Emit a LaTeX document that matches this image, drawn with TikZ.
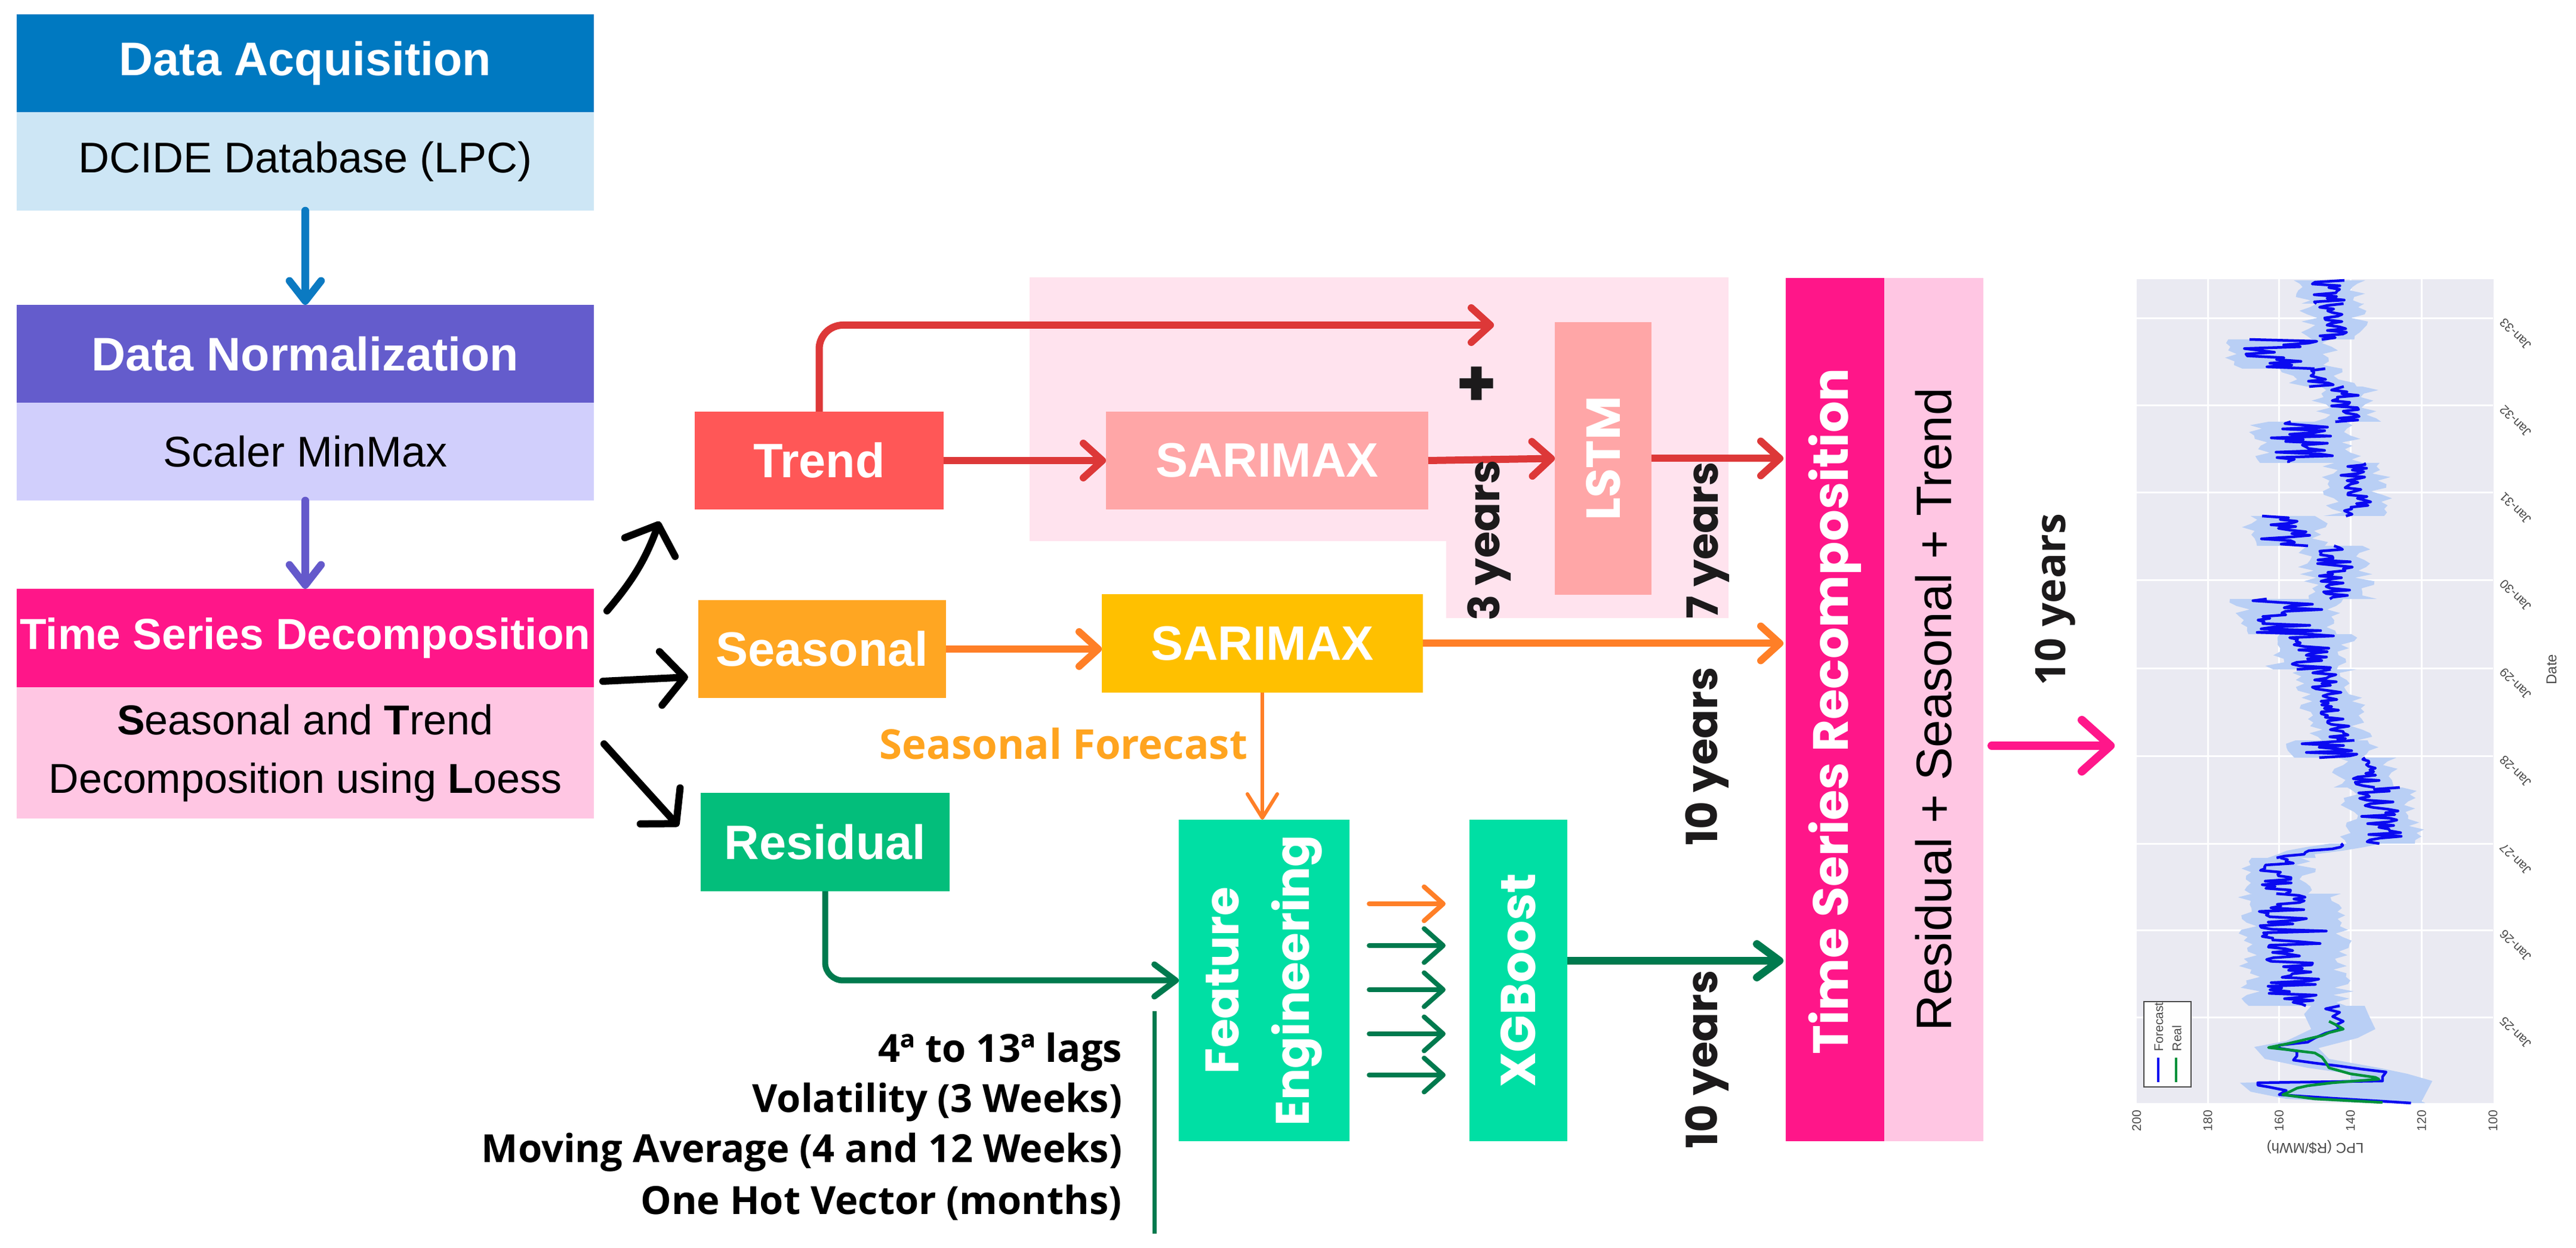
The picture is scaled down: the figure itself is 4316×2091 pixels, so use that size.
\documentclass[tikz,border=0pt]{standalone}
\usepackage{fontspec}
\setmainfont{Liberation Sans}
\newfontfamily\pop{Poppins}
\newfontfamily\osans{Open Sans}
\usetikzlibrary{arrows.meta}
\definecolor{acqH}{HTML}{0079C1}
\definecolor{acqB}{HTML}{CDE6F5}
\definecolor{normH}{HTML}{645CCC}
\definecolor{normB}{HTML}{D1CFFC}
\definecolor{tsdH}{HTML}{FF1689}
\definecolor{tsdB}{HTML}{FFC6E3}
\definecolor{blueArr}{HTML}{0B7AC2}
\definecolor{purpArr}{HTML}{6459CB}
\definecolor{trendC}{HTML}{FF5757}
\definecolor{salmon}{HTML}{FFA6A7}
\definecolor{pinkBg}{HTML}{FFE3EE}
\definecolor{redArr}{HTML}{DD3838}
\definecolor{seasC}{HTML}{FFA622}
\definecolor{yellowC}{HTML}{FFC000}
\definecolor{orangeArr}{HTML}{FF7F27}
\definecolor{fcTxt}{HTML}{FFA41F}
\definecolor{residC}{HTML}{03BE7B}
\definecolor{tealC}{HTML}{00DFA4}
\definecolor{dkGreen}{HTML}{007A4E}
\definecolor{pinkArr}{HTML}{FF178A}
\definecolor{plotbg}{HTML}{EAEAF2}
\definecolor{bandC}{HTML}{B9CFF5}
\definecolor{lineBlue}{HTML}{0A0AF0}
\definecolor{realGreen}{HTML}{00913A}
\definecolor{txtBlack}{HTML}{1C1A1B}
\definecolor{tickGray}{HTML}{4A4A4A}
\begin{document}
\begin{tikzpicture}[x=0.1pt,y=-0.1pt,
  box/.style={rectangle,inner sep=0pt,outer sep=0pt,anchor=north west,align=center},
  hdr/.style={text=white,font=\bfseries\fontsize{7.9}{9.5}\selectfont},
  sub/.style={text=black,font=\fontsize{7.2}{9.8}\selectfont},
  mid/.style={text=white,font=\bfseries\fontsize{8.1}{9.5}\selectfont},
  popw/.style={text=white,font=\pop\bfseries\fontsize{7.9}{11.8}\selectfont,rotate=90,align=center,inner sep=0pt},
  yrs/.style={text=txtBlack,font=\pop\bfseries\fontsize{7.2}{8}\selectfont,rotate=90,inner sep=0pt},
  lagtxt/.style={anchor=base east,inner sep=0pt,text=black,font=\osans\bfseries\fontsize{6.5}{8}\selectfont},
  tick/.style={text=tickGray,font=\fontsize{2.1}{2.5}\selectfont,inner sep=0.3pt},
  downarr/.style={line width=1.25pt,line cap=round,-{Straight Barb[length=3.4pt,width=5.3pt,round]}},
  blkarr/.style={black,line width=1.2pt,line cap=round,-{Straight Barb[length=4pt,width=9pt,round]}},
  redarr/.style={redArr,line width=1.2pt,-{Straight Barb[length=3.2pt,width=5.8pt,round]}},
  orgarr/.style={orangeArr,line width=1.2pt,-{Straight Barb[length=3.2pt,width=5.8pt,round]}},
  orgthin/.style={orangeArr,line width=0.6pt,-{Straight Barb[length=4pt,width=5pt,round]}},
  grnarr/.style={dkGreen,line width=1.0pt,-{Straight Barb[length=3.6pt,width=5.4pt,round]}},
  grnarr2/.style={dkGreen,line width=1.3pt,-{Straight Barb[length=3.8pt,width=5.6pt,round]}},
  smallarr/.style={line width=0.8pt,line cap=round,-{Straight Barb[length=3.2pt,width=5.7pt,round]}},
  pinkarrow/.style={pinkArr,line width=1.4pt,line cap=round,-{Straight Barb[length=4.8pt,width=8.6pt,round]}},
  gridl/.style={white,line width=0.3pt},
  blueline/.style={lineBlue,line width=0.45pt,line join=round},
  greenline/.style={realGreen,line width=0.45pt,line join=round}
]
\useasboundingbox[fill=white] (0,0) rectangle (4316,2091);

% ---------- left column ----------
\node[box,hdr,fill=acqH,minimum width=96.7pt,minimum height=16.4pt] (acqh) at (28,24) {Data Acquisition};
\node[box,sub,fill=acqB,minimum width=96.7pt,minimum height=16.5pt] (acqb) at (28,188) {DCIDE Database (LPC)};
\node[box,hdr,fill=normH,minimum width=96.7pt,minimum height=16.4pt] (normh) at (28,511) {Data Normalization};
\node[box,sub,fill=normB,minimum width=96.7pt,minimum height=16.4pt] (normb) at (28,675) {Scaler MinMax};
\node[box,hdr,font=\bfseries\fontsize{7.3}{9}\selectfont,fill=tsdH,minimum width=96.7pt,minimum height=16.5pt] (tsdh) at (28,987) {Time Series Decomposition};
\node[box,sub,font=\fontsize{7.0}{9.8}\selectfont,fill=tsdB,minimum width=96.7pt,minimum height=22pt] (tsdb) at (28,1152) {\textbf{S}easonal and \textbf{T}rend\\Decomposition using \textbf{L}oess};

\draw[downarr,blueArr] (acqb.south) -- (normh.north);
\draw[downarr,purpArr] (normb.south) -- (tsdh.north);

% ---------- black branch arrows ----------
\coordinate (ba1) at (1017,1024); \coordinate (bb1) at (1105,874);
\coordinate (ba2) at (1010,1142); \coordinate (bb2) at (1153,1135);
\coordinate (ba3) at (1012,1247); \coordinate (bb3) at (1137,1385);
\draw[blkarr] (ba1) to[bend right=10] (bb1);
\draw[blkarr] (ba2) -- (bb2);
\draw[blkarr] (ba3) -- (bb3);

% ---------- trend branch ----------
\fill[pinkBg] (1725,465) -- (2896,465) -- (2896,1036) -- (2423,1036) -- (2423,907) -- (1725,907) -- cycle;
\node[box,mid,fill=trendC,minimum width=41.7pt,minimum height=16.4pt] (trend) at (1164,690) {Trend};
\node[box,mid,fill=salmon,minimum width=54pt,minimum height=16.4pt] (sar1) at (1853,690) {SARIMAX};
\node[box,fill=salmon,minimum width=16.2pt,minimum height=45.7pt] (lstm) at (2605,540) {};
\node[popw,font=\pop\bfseries\fontsize{8}{9}\selectfont] (lstmt) at (lstm.center) {LSTM};

% ---------- seasonal & residual ----------
\node[box,mid,fill=seasC,minimum width=41.5pt,minimum height=16.4pt] (seas) at (1170,1006) {Seasonal};
\node[box,mid,fill=yellowC,minimum width=53.8pt,minimum height=16.5pt] (sar2) at (1846,996) {SARIMAX};
\node[box,mid,fill=residC,minimum width=41.7pt,minimum height=16.5pt] (resid) at (1174,1329) {Residual};
\node[box,fill=tealC,minimum width=28.6pt,minimum height=53.9pt] (fe) at (1975,1374) {};
\node[popw] (fet) at (fe.center) {Feature\\Engineering};
\node[box,fill=tealC,minimum width=16.4pt,minimum height=53.9pt] (xgb) at (2462,1374) {};
\node[popw,font=\pop\bfseries\fontsize{8.2}{9}\selectfont] (xgbt) at (xgb.center) {XGBoost};

% ---------- recomposition ----------
\node[box,fill=tsdH,minimum width=16.5pt,minimum height=144.7pt] (rec) at (2992,466) {};
\node[popw,font=\pop\bfseries\fontsize{8.3}{9}\selectfont] (rect) at ([yshift=-0.3pt]rec.center) {Time Series Recomposition};
\node[box,fill=tsdB,minimum width=16.6pt,minimum height=144.7pt] (rec2) at (3157,466) {};
\node[rotate=90,inner sep=0pt,font=\fontsize{8.35}{9}\selectfont] (rec2t) at (rec2.center) {Residual + Seasonal + Trend};

% ---------- connectors ----------
\coordinate (ttip) at (2503,545);
\draw[redarr] (trend) -- (sar1);
\draw[redarr,rounded corners=4pt] (trend.north) |- (ttip);
\draw[redarr] (sar1.east) -- (lstm.west);
\draw[redarr,shorten >=0.4pt] (lstm.east) -- (lstm.east -| rec.west);
\draw[orgarr] (seas.east) -- (seas.east -| sar2.west);
\draw[orgarr,shorten >=0.4pt] (sar2.east) -- (sar2.east -| rec.west);
\draw[orgthin] (sar2.south) -- (sar2.south |- fe.north);
\draw[grnarr,rounded corners=3pt] (resid.south) |- (fe.west);
\draw[grnarr2,shorten >=0.4pt] ([yshift=3.3pt]xgb.east) -- ([yshift=3.3pt]xgb.east -| rec.west);
\foreach \i/\yy/\c in {1/1515/orangeArr,2/1585/dkGreen,3/1659/dkGreen,4/1733/dkGreen,5/1802/dkGreen}{
  \coordinate (fa\i) at (2294,\yy); \coordinate (fb\i) at (2422,\yy);
  \draw[smallarr,\c] (fa\i) -- (fb\i);
}
\coordinate (pa) at (3337,1250); \coordinate (pb) at (3543,1250);
\draw[pinkarrow] (pa) -- (pb);
\coordinate (gl1) at (1934,1695); \coordinate (gl2) at (1934,2068);
\draw[dkGreen,line width=0.7pt] (gl1) -- (gl2);

% ---------- labels ----------
\node[text=txtBlack,font=\pop\bfseries\fontsize{11}{11}\selectfont,inner sep=0pt] (plus) at (2474,648) {+};
\node[yrs] (y3) at (2495,906) {3 years};
\node[yrs] (y7) at (2862,906) {7 years};
\node[yrs] (y10a) at (2860,1268) {10 years};
\node[yrs] (y10b) at (2860,1776) {10 years};
\node[rotate=90,inner sep=0pt,text=txtBlack,font=\osans\bfseries\fontsize{7}{8}\selectfont] (y10c) at (3443,1005) {10 years};
\node[text=fcTxt,font=\osans\bfseries\fontsize{6.9}{8}\selectfont,inner sep=0pt] (sfc) at (1782,1247) {Seasonal Forecast};
\node[lagtxt] (lag1) at (1882,1780) {4ª to 13ª lags};
\node[lagtxt] (lag2) at (1882,1864) {Volatility (3 Weeks)};
\node[lagtxt] (lag3) at (1882,1948) {Moving Average (4 and 12 Weeks)};
\node[lagtxt] (lag4) at (1882,2035) {One Hot Vector (months)};

% ---------- forecast plot ----------
\fill[plotbg] (3580,468) rectangle (4178,1849);
\def\lpcsegs{470/509/146/146/5, 509/569/145/145/4, 569/618/159/159/11, 618/648/150/148/4, 648/707/142/141/4, 707/776/153/152/10, 776/865/139/138/4, 865/915/158/158/7, 915/1004/145/143/5, 1004/1063/158/158/10, 1063/1122/151/151/7, 1122/1241/148/143/4, 1241/1270/146/145/8, 1270/1320/136/135/4, 1320/1414/132/131/6, 1414/1438/140/158/3, 1438/1498/161/160/5, 1498/1686/156/155/10}
\begin{scope}[xshift=477.4pt,x=-0.597pt]
  \foreach \v in {180,160,140,120} \draw[gridl] (\v,468) -- (\v,1849);
  \foreach \yy in {534,680,826,972,1120,1267,1414,1559,1705} \draw[gridl] (200,\yy) -- (100,\yy);
  \pgfmathsetseed{4242}
  \foreach \ya/\yb/\va/\vb/\am in \lpcsegs {
    \pgfmathtruncatemacro\nb{max(2,round((\yb-\ya)/6))+1}
    \fill[bandC] plot[variable=\t,domain=\ya:\yb,samples=\nb] ({\va+(\vb-\va)*(\t-\ya)/(\yb-\ya)+\am+3+3*rand},\t)
      -- plot[variable=\t,domain=\yb:\ya,samples=\nb] ({\va+(\vb-\va)*(\t-\ya)/(\yb-\ya)-\am-3-3*rand},\t) -- cycle;
  }
  \fill[bandC] (151,1686) -- (153,1700) -- (151,1725) -- (158,1745) -- (167,1755) -- (164,1775) -- (152,1790) -- (140,1800) -- (140,1810) -- (171,1815) -- (168,1830) -- (158,1842) -- (135,1849)
    -- (119,1849) -- (120,1846) -- (117,1812) -- (124,1800) -- (132,1790) -- (146,1775) -- (149,1757) -- (138,1740) -- (133,1725) -- (135,1700) -- (136,1686) -- cycle;
  \foreach \ya/\yb/\va/\vb/\am in \lpcsegs {
    \pgfmathtruncatemacro\nl{max(2,round((\yb-\ya)/3))+1}
    \draw[blueline] plot[variable=\t,domain=\ya:\yb,samples=\nl] ({\va+(\vb-\va)*(\t-\ya)/(\yb-\ya)+\am*rand},\t);
  }
  \draw[blueline] plot coordinates {(143,1686) (147,1691) (143,1697) (145,1704) (142,1712) (144,1718) (143,1725) (147,1732) (150,1740) (152,1747) (160,1752) (160,1757) (155,1762) (155,1770) (156,1777) (150,1782) (143,1787) (137,1792) (130,1797) (131,1805) (131,1812) (166,1815) (166,1819) (163,1822) (158,1828) (160,1835) (145,1841) (131,1846) (123,1849)};
  \draw[greenline] plot coordinates {(146,1712) (144,1718) (142,1725) (146,1731) (148,1736) (153,1743) (158,1750) (163,1756) (157,1760) (150,1765) (148,1772) (147,1780) (146,1790) (140,1800) (133,1806) (132,1809) (145,1815) (152,1820) (155,1824) (157,1830) (159,1835) (150,1842) (131,1848)};
  \foreach \v in {200,180,160,140,120,100} \node[tick,rotate=90,anchor=east] (yt\v) at (\v,1856) {\v};
\end{scope}
\foreach \yy/\lab in {534/33,680/32,826/31,972/30,1120/29,1267/28,1414/27,1559/26,1705/25}
  \node[tick,rotate=135,anchor=east] (jan\lab) at (4188,\yy) {Jan-\lab};
\node[tick,rotate=90,font=\fontsize{2.4}{3}\selectfont] (datel) at (4275,1122) {Date};
\node[tick,rotate=180,font=\fontsize{2.4}{3}\selectfont] (lpcl) at (3879,1923) {LPC (R\$/MWh)};
\node[box,draw=tickGray,line width=0.25pt,fill=white!96!plotbg,minimum width=7.9pt,minimum height=14.3pt] (leg) at (3592,1679) {};
\coordinate (lf1) at (3616,1773); \coordinate (lf2) at (3616,1814);
\coordinate (lr1) at (3646,1773); \coordinate (lr2) at (3646,1814);
\draw[blueline,line width=0.35pt] (lf1) -- (lf2);
\draw[greenline,line width=0.35pt] (lr1) -- (lr2);
\node[tick,rotate=90,anchor=west] (legf) at (3617,1767) {Forecast};
\node[tick,rotate=90,anchor=west] (legr) at (3647,1767) {Real};
\end{tikzpicture}
\end{document}
